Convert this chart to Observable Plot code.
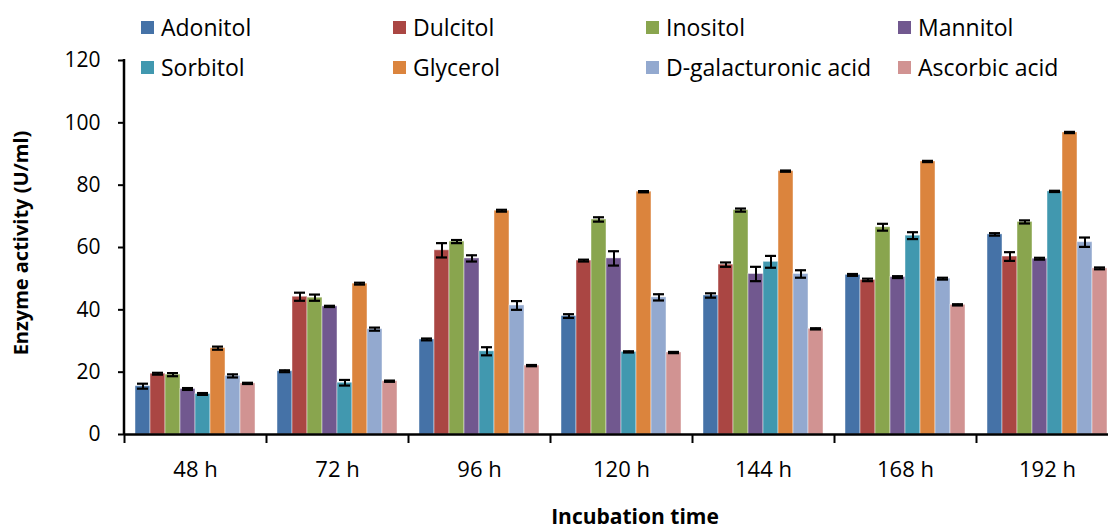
<!DOCTYPE html>
<html>
<head>
<meta charset="utf-8">
<script src="https://cdn.jsdelivr.net/npm/d3@7"></script>
<script src="https://cdn.jsdelivr.net/npm/@observablehq/plot@0.6"></script>
<style>
  body { margin: 0; background: #fff; font-family: "Open Sans", sans-serif; }
  #wrap { position: relative; width: 1108px; height: 530px; overflow: hidden; }
  #legend { position: absolute; left: 0; top: 0; }
  .item { position: absolute; display: flex; align-items: center; height: 30px;
          font-size: 23px; color: #000; white-space: nowrap; }
  .sw { width: 13px; height: 13px; margin-right: 7px; }
</style>
</head>
<body>
<div id="wrap"><div id="chart"></div><div id="legend"></div></div>
<script>
// Incubation times (categories)
const times = ["48 h", "72 h", "96 h", "120 h", "144 h", "168 h", "192 h"];

// Carbon sources (series)
const series = ["Adonitol", "Dulcitol", "Inositol", "Mannitol",
                "Sorbitol", "Glycerol", "D-galacturonic acid", "Ascorbic acid"];

// Enzyme activity (U/ml) per series, one value per incubation time
const adonitol  = [15.5, 20.3, 30.5, 38.0, 44.6, 51.2, 64.2];
const dulcitol  = [19.5, 44.2, 59.1, 55.8, 54.5, 49.6, 57.1];
const inositol  = [19.2, 43.9, 61.9, 69.0, 72.0, 66.5, 68.2];
const mannitol  = [14.6, 41.1, 56.5, 56.5, 51.5, 50.5, 56.4];
const sorbitol  = [13.0, 16.6, 26.7, 26.5, 55.4, 63.8, 78.0];
const glycerol  = [27.7, 48.4, 71.8, 77.9, 84.5, 87.6, 96.9];
const galactur  = [18.8, 33.8, 41.4, 44.0, 51.5, 50.0, 61.7];
const ascorbic  = [16.4, 17.1, 22.1, 26.3, 33.9, 41.6, 53.3];

// Standard errors, same layout
const adonitolErr = [0.8, 0.3, 0.3, 0.6, 0.7, 0.3, 0.4];
const dulcitolErr = [0.3, 1.3, 2.3, 0.3, 0.7, 0.4, 1.4];
const inositolErr = [0.5, 1.0, 0.5, 0.7, 0.5, 1.1, 0.5];
const mannitolErr = [0.3, 0.2, 1.0, 2.3, 2.3, 0.3, 0.3];
const sorbitolErr = [0.3, 0.9, 1.3, 0.2, 1.9, 1.1, 0.2];
const glycerolErr = [0.5, 0.3, 0.3, 0.2, 0.2, 0.2, 0.2];
const galacturErr = [0.5, 0.5, 1.4, 1.0, 1.2, 0.3, 1.5];
const ascorbicErr = [0.2, 0.2, 0.2, 0.2, 0.2, 0.2, 0.3];

const yTicks = [0, 20, 40, 60, 80, 100, 120];

const colors = ["#4572A7", "#AA4643", "#89A54E", "#71588F",
                "#4198AF", "#DB843D", "#93A9CF", "#D19392"];

const values = [adonitol, dulcitol, inositol, mannitol, sorbitol, glycerol, galactur, ascorbic];
const errors = [adonitolErr, dulcitolErr, inositolErr, mannitolErr,
                sorbitolErr, glycerolErr, galacturErr, ascorbicErr];

const rows = times.flatMap((t, i) => series.map((s, j) => ({
  time: t, series: s, value: values[j][i], err: errors[j][i]
})));

// Layout
const W = 1108, H = 530;
const mL = 124, mR = -10, mT = 60, mB = 96;
const band = (W - mL - mR) / times.length;

const chart = Plot.plot({
  width: W, height: H,
  marginLeft: mL, marginRight: mR, marginTop: mT, marginBottom: mB,
  style: { fontFamily: '"Open Sans", sans-serif', fontSize: "20px", color: "#000", background: "#fff" },
  fx: { domain: times, padding: 0, axis: null, label: null },
  x: { domain: series, paddingInner: 0, paddingOuter: 0.73, axis: null },
  y: { domain: [0, 120], axis: null },
  color: { domain: series, range: colors },
  marks: [
    Plot.barY(rows, { fx: "time", x: "series", y: "value", fill: "series",
                      stroke: "#fff", strokeOpacity: 0.45, strokeWidth: 1 }),
    // error bars
    Plot.ruleX(rows, { fx: "time", x: "series", y1: d => d.value - d.err, y2: d => d.value + d.err,
                       stroke: "#000", strokeWidth: 2 }),
    Plot.tickY(rows, { fx: "time", x: "series", y: d => d.value - d.err,
                       stroke: "#000", strokeWidth: 2.2, inset: 2 }),
    Plot.tickY(rows, { fx: "time", x: "series", y: d => d.value + d.err,
                       stroke: "#000", strokeWidth: 2.2, inset: 2 }),
    // baseline
    Plot.ruleY([0], { stroke: "#000", strokeWidth: 2.5 }),
    Plot.axisY({ ticks: yTicks, tickSize: 6, tickPadding: 18, fontSize: 21,
                 strokeWidth: 2, label: null }),
    // category labels, centered under each group
    Plot.axisFx({ anchor: "bottom", tickSize: 0, tickPadding: 27, fontSize: 22, label: null }),
    // tick marks between categories
    Plot.axisFx({ anchor: "bottom", tickSize: 9, tickFormat: () => "", dx: -band / 2,
                  strokeWidth: 2, label: null })
  ]
});

document.getElementById("chart").appendChild(chart);

// Vertical axis line and axis titles
const ys = chart.scale("y");
const fxs = chart.scale("fx");
const svg = d3.select(chart);
const x0 = fxs.apply(times[0]);
svg.append("line")
  .attr("x1", x0).attr("x2", x0)
  .attr("y1", ys.apply(120) - 1).attr("y2", ys.apply(0) + 1)
  .attr("stroke", "#000").attr("stroke-width", 2.5);

svg.append("text")
  .attr("transform", `translate(28,${(ys.apply(0) + ys.apply(120)) / 2 - 4}) rotate(-90)`)
  .attr("text-anchor", "middle")
  .attr("font-size", 20).attr("font-weight", "bold").attr("fill", "#000")
  .text("Enzyme activity (U/ml)");

svg.append("text")
  .attr("x", 635).attr("y", 524)
  .attr("text-anchor", "middle")
  .attr("font-size", 21).attr("font-weight", "bold").attr("fill", "#000")
  .text("Incubation time");

// Legend: two rows of four
const legendCols = [141, 393, 646, 898];
const legendRows = [27, 67];
const legend = document.getElementById("legend");
series.forEach((s, i) => {
  const item = document.createElement("div");
  item.className = "item";
  item.style.left = legendCols[i % 4] + "px";
  item.style.top = (legendRows[Math.floor(i / 4)] - 15) + "px";
  const sw = document.createElement("span");
  sw.className = "sw";
  sw.style.background = colors[i];
  item.appendChild(sw);
  item.appendChild(document.createTextNode(s));
  legend.appendChild(item);
});
</script>
</body>
</html>
